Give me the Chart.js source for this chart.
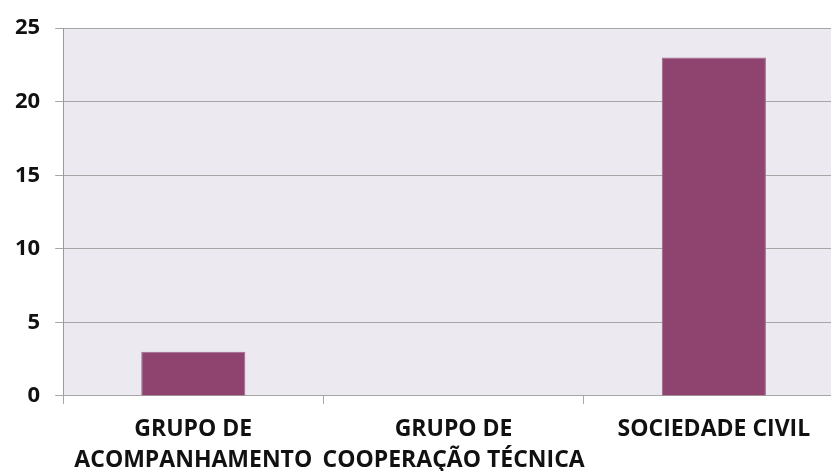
<!DOCTYPE html>
<html>
<head>
<meta charset="utf-8">
<script src="https://cdn.jsdelivr.net/npm/chart.js@4"></script>
<style>
  html, body { margin: 0; padding: 0; background: #fff; overflow: hidden; width: 831px; height: 471px; }
  #wrap { position: absolute; left: 0; top: 0; }
</style>
</head>
<body>
<div id="wrap"><canvas id="chart" width="850" height="491"></canvas></div>
<script>
// Categories and values
const categories = [
    ['GRUPO DE', 'ACOMPANHAMENTO'],
    ['GRUPO DE', 'COOPERAÇÃO TÉCNICA'],
    ['SOCIEDADE CIVIL']
];
const values = [3, 0, 23];
const yTicks = [0, 5, 10, 15, 20, 25];

// Paint the plot area background
const plotBackground = {
    id: 'plotBackground',
    beforeDraw(chart) {
        const { ctx, chartArea } = chart;
        ctx.save();
        ctx.fillStyle = '#ECEAF0';
        ctx.fillRect(chartArea.left, chartArea.top, chartArea.right - chartArea.left, chartArea.bottom - chartArea.top);
        ctx.restore();
    }
};

const ctx = document.getElementById('chart');

new Chart(ctx, {
    type: 'bar',
    data: {
        labels: categories,
        datasets: [{
            data: values,
            backgroundColor: '#8F4470',
            borderColor: '#A0668A',
            borderWidth: 1,
            categoryPercentage: 1,
            barPercentage: 0.4
        }]
    },
    options: {
        responsive: false,
        animation: false,
        layout: {
            padding: { top: 17, right: 6, left: 0, bottom: 5 }
        },
        plugins: {
            legend: { display: false },
            tooltip: { enabled: false }
        },
        scales: {
            y: {
                min: 0,
                max: 25,
                afterBuildTicks: axis => {
                    axis.ticks = yTicks.map(v => ({ value: v }));
                },
                border: { display: true, color: '#9A9A9A', width: 1 },
                grid: {
                    color: '#A6A6A6',
                    lineWidth: 1,
                    tickLength: 8
                },
                ticks: {
                    color: '#111',
                    padding: 15,
                    font: { family: 'Open Sans', size: 22, weight: 'bold' }
                }
            },
            x: {
                border: { display: true, color: '#A6A6A6', width: 1 },
                grid: {
                    drawOnChartArea: false,
                    drawTicks: true,
                    tickLength: 8,
                    color: '#A6A6A6',
                    offset: true
                },
                ticks: {
                    color: '#111',
                    padding: 10,
                    maxRotation: 0,
                    autoSkip: false,
                    font: { family: 'Open Sans', size: 23, weight: 'bold', lineHeight: 1.35 }
                }
            }
        }
    },
    plugins: [plotBackground]
});
</script>
</body>
</html>
